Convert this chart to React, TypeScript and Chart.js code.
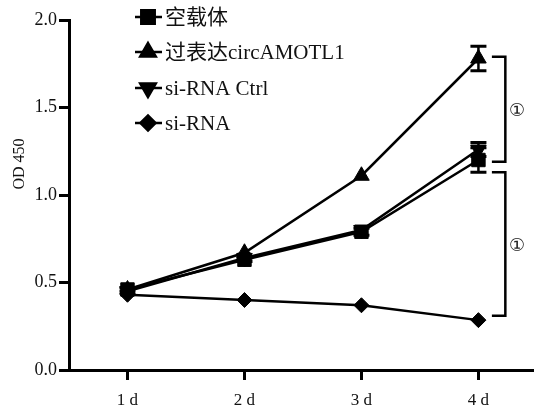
import React, { useEffect, useRef } from "react";
import { Chart, registerables } from "chart.js";
import { drawPoint } from "chart.js/helpers";

Chart.register(...registerables);

const xValues = [1, 2, 3, 4];
const xLabels = ["1 d", "2 d", "3 d", "4 d"];
const yTicks = [0, 0.5, 1.0, 1.5, 2.0];

const seriesNames = ["空载体", "过表达circAMOTL1", "si-RNA Ctrl", "si-RNA"];
const vectorValues = [0.46, 0.63, 0.79, 1.2];
const vectorErr = [0.01, 0.01, 0.02, 0.07];
const overValues = [0.46, 0.67, 1.11, 1.78];
const overErr = [0, 0, 0, 0.07];
const siCtrlValues = [0.45, 0.64, 0.8, 1.26];
const siCtrlErr = [0, 0, 0, 0.04];
const siValues = [0.43, 0.4, 0.37, 0.285];
const siErr = [0, 0, 0, 0];

// significance brackets: [top value, bottom value]
const bracketTops = [1.79, 1.13];
const bracketBottoms = [1.19, 0.31];
const bracketLabel = "①";
const bracketX = 4.23;
const bracketTickX = 4.115;
const bracketLabelX = 4.33;

const yTitle = "OD 450";

const SERIF = '"Liberation Serif", "Times New Roman", "Noto Sans CJK SC", serif';

const styles = [
  { pointStyle: "rect", radius: 9.5, rotation: 0 },
  { pointStyle: "triangle", radius: 9, rotation: 0 },
  { pointStyle: "triangle", radius: 9, rotation: 180 },
  { pointStyle: "rectRot", radius: 7.5, rotation: 0 },
];

const allValues = [vectorValues, overValues, siCtrlValues, siValues];
const allErr = [vectorErr, overErr, siCtrlErr, siErr];

export default function App() {
  const ref = useRef<HTMLCanvasElement | null>(null);

  useEffect(() => {
    if (!ref.current) return;

    const extras = {
      id: "extras",
      afterDatasetsDraw(chart: any) {
        const ctx = chart.ctx;
        const xs = chart.scales.x;
        const ys = chart.scales.y;
        ctx.save();
        ctx.strokeStyle = "#000";
        ctx.fillStyle = "#000";
        // error bars
        allErr.forEach((errs, i) => {
          errs.forEach((e, j) => {
            if (e <= 0) return;
            const px = xs.getPixelForValue(xValues[j]);
            const top = ys.getPixelForValue(allValues[i][j] + e);
            const bot = ys.getPixelForValue(allValues[i][j] - e);
            ctx.lineWidth = 2.5;
            ctx.beginPath();
            ctx.moveTo(px, top);
            ctx.lineTo(px, bot);
            ctx.stroke();
            ctx.lineWidth = 3;
            ctx.beginPath();
            ctx.moveTo(px - 8, top);
            ctx.lineTo(px + 8, top);
            ctx.moveTo(px - 8, bot);
            ctx.lineTo(px + 8, bot);
            ctx.stroke();
          });
        });
        // brackets
        const bx = xs.getPixelForValue(bracketX);
        const tx = xs.getPixelForValue(bracketTickX);
        const lx = xs.getPixelForValue(bracketLabelX);
        bracketTops.forEach((t, i) => {
          const y1 = ys.getPixelForValue(t);
          const y2 = ys.getPixelForValue(bracketBottoms[i]);
          ctx.lineWidth = 2.5;
          ctx.beginPath();
          ctx.moveTo(tx, y1);
          ctx.lineTo(bx, y1);
          ctx.lineTo(bx, y2);
          ctx.lineTo(tx, y2);
          ctx.stroke();
          ctx.font = '18px "DejaVu Sans", "Noto Sans CJK SC", sans-serif';
          ctx.textAlign = "center";
          ctx.textBaseline = "middle";
          ctx.fillStyle = "#222";
          ctx.fillText(bracketLabel, lx, (y1 + y2) / 2 + 2);
          ctx.fillStyle = "#000";
        });
        // legend
        const rows = [17, 52, 88, 123];
        seriesNames.forEach((name, i) => {
          const y = rows[i];
          ctx.lineWidth = 2.5;
          ctx.strokeStyle = "#000";
          ctx.beginPath();
          ctx.moveTo(135, y);
          ctx.lineTo(162, y);
          ctx.stroke();
          ctx.fillStyle = "#000";
          drawPoint(ctx, { ...styles[i], borderWidth: 1 } as any, 148, y);
          ctx.font = `21px ${SERIF}`;
          ctx.textAlign = "left";
          ctx.textBaseline = "middle";
          ctx.fillStyle = "#111";
          ctx.fillText(name, 165, y + 1);
        });
        // y title
        ctx.save();
        ctx.translate(20, 164);
        ctx.rotate(-Math.PI / 2);
        ctx.font = `16px ${SERIF}`;
        ctx.textAlign = "center";
        ctx.textBaseline = "middle";
        ctx.fillStyle = "#111";
        ctx.fillText(yTitle, 0, 0);
        ctx.restore();
        ctx.restore();
      },
    };

    const chart = new Chart(ref.current, {
      type: "line",
      data: {
        datasets: allValues.map((vals, i) => ({
          label: seriesNames[i],
          data: vals.map((v, j) => ({ x: xValues[j], y: v })),
          borderColor: "#000",
          backgroundColor: "#000",
          borderWidth: 2.5,
          pointStyle: styles[i].pointStyle as any,
          pointRadius: styles[i].radius,
          pointRotation: styles[i].rotation,
          pointBackgroundColor: "#000",
          pointBorderColor: "#000",
          pointBorderWidth: 1,
          tension: 0,
          clip: false as any,
        })),
      },
      options: {
        animation: false,
        responsive: false,
        maintainAspectRatio: false,
        layout: { autoPadding: false, padding: { top: 20, left: 0, right: 0, bottom: 0 } },
        plugins: {
          legend: { display: false },
          tooltip: { enabled: false },
          title: { display: false },
        },
        scales: {
          x: {
            type: "linear",
            min: 0.5,
            max: 4.475,
            afterBuildTicks: (s: any) => {
              s.ticks = xValues.map((v) => ({ value: v }));
            },
            afterFit: (s: any) => {
              s.height = 42;
              s.paddingLeft = 0;
              s.paddingRight = 0;
            },
            ticks: {
              callback: (v: any) => xLabels[xValues.indexOf(Number(v))] ?? "",
              color: "#111",
              font: { family: SERIF, size: 17 },
              padding: 10,
              maxRotation: 0,
            },
            grid: {
              drawOnChartArea: false,
              drawTicks: true,
              tickLength: 10,
              lineWidth: 3,
              color: "#000",
            },
            border: { display: true, width: 3, color: "#000" },
          },
          y: {
            type: "linear",
            min: 0,
            max: 2.0,
            afterBuildTicks: (s: any) => {
              s.ticks = yTicks.map((v) => ({ value: v }));
            },
            afterFit: (s: any) => {
              s.width = 69;
              s.paddingTop = 0;
              s.paddingBottom = 0;
            },
            ticks: {
              callback: (v: any) => Number(v).toFixed(1),
              color: "#111",
              font: { family: SERIF, size: 18 },
              padding: 2,
            },
            grid: {
              drawOnChartArea: false,
              drawTicks: true,
              tickLength: 10,
              lineWidth: 3,
              color: "#000",
            },
            border: { display: true, width: 3, color: "#000" },
          },
        },
      },
      plugins: [extras],
    });
    return () => chart.destroy();
  }, []);

  return (
    <div style={{ position: "fixed", left: 0, top: 0, width: 534, height: 412, background: "#fff" }}>
      <canvas ref={ref} width={534} height={412} style={{ display: "block", width: 534, height: 412 }} />
    </div>
  );
}
